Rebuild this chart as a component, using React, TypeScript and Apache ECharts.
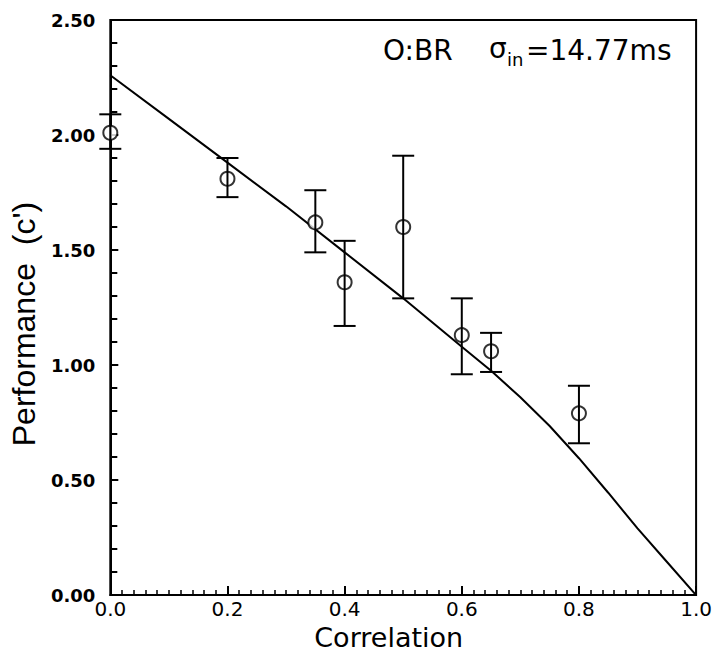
import React, { useEffect, useRef } from "react";
import * as echarts from "echarts";

// Measured points (correlation, performance c') with error-bar limits
const corrX = [0.0, 0.2, 0.35, 0.4, 0.5, 0.6, 0.65, 0.8];
const perf = [2.01, 1.81, 1.62, 1.36, 1.6, 1.13, 1.06, 0.79];
const errLow = [1.94, 1.73, 1.49, 1.17, 1.29, 0.96, 0.97, 0.66];
const errHigh = [2.09, 1.9, 1.76, 1.54, 1.91, 1.29, 1.14, 0.91];

// Model curve
const curveX = [0, 0.1, 0.2, 0.3, 0.4, 0.5, 0.6, 0.65, 0.7, 0.75, 0.8, 0.85, 0.9, 0.95, 1.0];
const curveY = [2.26, 2.07, 1.88, 1.69, 1.49, 1.29, 1.08, 0.975, 0.86, 0.735, 0.595, 0.445, 0.29, 0.145, 0.0];

const xTitle = "Correlation";
const yTitle = "Performance  (c')";
const FONT = "DejaVu Sans";

export default function App() {
  const ref = useRef<HTMLDivElement>(null);
  useEffect(() => {
    if (!ref.current) return;
    const chart = echarts.init(ref.current, null, { renderer: "svg" });
    const points = corrX.map((x, i) => [x, perf[i]]);
    const bars = corrX.map((x, i) => [x, errLow[i], errHigh[i]]);
    const curve = curveX.map((x, i) => [x, curveY[i]]);
    chart.setOption({
      animation: false,
      backgroundColor: "#fff",
      grid: {
        left: 108,
        right: 14,
        top: 20,
        bottom: 53,
        show: true,
        borderColor: "#000",
        borderWidth: 2,
        containLabel: false,
      },
      xAxis: {
        type: "value",
        min: 0,
        max: 1,
        interval: 0.2,
        name: xTitle,
        nameLocation: "middle",
        nameGap: 12,
        nameTextStyle: {
          fontFamily: FONT,
          fontSize: 27,
          color: "#000",
          verticalAlign: "top",
          padding: [0, 29, 0, 0],
        },
        axisLine: { show: true, lineStyle: { color: "#000", width: 2 } },
        axisTick: { show: true, inside: true, length: 9, lineStyle: { color: "#000", width: 2 } },
        minorTick: { show: true, splitNumber: 10, length: 5, lineStyle: { color: "#000", width: 1.5 } },
        splitLine: { show: false },
        minorSplitLine: { show: false },
        axisLabel: {
          formatter: (v: number) => v.toFixed(1),
          fontFamily: FONT,
          fontSize: 20,
          color: "#000",
          margin: 4,
          showMaxLabel: true,
          showMinLabel: true,
        },
      },
      yAxis: {
        type: "value",
        min: 0,
        max: 2.5,
        interval: 0.5,
        name: yTitle,
        nameLocation: "middle",
        nameGap: 52,
        nameTextStyle: {
          fontFamily: "Liberation Sans",
          fontSize: 32,
          color: "#000",
          padding: [0, 33, 0, 0],
        },
        axisLine: { show: true, lineStyle: { color: "#000", width: 2 } },
        axisTick: { show: true, inside: true, length: 8, lineStyle: { color: "#000", width: 2 } },
        minorTick: { show: true, splitNumber: 5, length: 7, lineStyle: { color: "#000", width: 2 } },
        splitLine: { show: false },
        minorSplitLine: { show: false },
        axisLabel: {
          formatter: (v: number) => v.toFixed(2),
          fontFamily: FONT,
          fontWeight: "bold",
          fontSize: 18,
          color: "#000",
          margin: 15,
        },
      },
      series: [
        {
          type: "line",
          data: curve,
          showSymbol: false,
          symbol: "none",
          smooth: false,
          lineStyle: { color: "#000", width: 2 },
          z: 2,
        },
        {
          type: "scatter",
          data: points,
          symbol: "emptyCircle",
          symbolSize: 14,
          clip: false,
          itemStyle: { color: "#000", borderColor: "#000", borderWidth: 2 },
          z: 3,
        },
        {
          type: "custom",
          data: bars,
          clip: false,
          encode: { x: 0, y: [1, 2] },
          z: 4,
          renderItem: (params: any, api: any) => {
            const lo = api.coord([api.value(0), api.value(1)]);
            const hi = api.coord([api.value(0), api.value(2)]);
            const half = 11;
            const st = { stroke: "#000", lineWidth: 2 };
            return {
              type: "group",
              children: [
                { type: "line", shape: { x1: lo[0], y1: lo[1], x2: hi[0], y2: hi[1] }, style: st },
                { type: "line", shape: { x1: lo[0] - half, y1: lo[1], x2: lo[0] + half, y2: lo[1] }, style: st },
                { type: "line", shape: { x1: hi[0] - half, y1: hi[1], x2: hi[0] + half, y2: hi[1] }, style: st },
              ],
            };
          },
        },
      ],
      graphic: [
        {
          type: "group",
          children: [
            {
              type: "text",
              x: 383,
              y: 50,
              style: { text: "O:BR", fontFamily: FONT, fontSize: 28, fill: "#000", verticalAlign: "middle" },
            },
            {
              type: "text",
              x: 489,
              y: 48,
              style: { text: "σ", fontFamily: FONT, fontSize: 28, fill: "#000", verticalAlign: "middle" },
            },
            {
              type: "text",
              x: 507,
              y: 59,
              style: { text: "in", fontFamily: FONT, fontSize: 18, fill: "#000", verticalAlign: "middle" },
            },
            {
              type: "text",
              x: 526,
              y: 50,
              style: { text: "=14.77ms", fontFamily: FONT, fontSize: 28, fill: "#000", verticalAlign: "middle" },
            },
          ],
        },
      ],
    });
    return () => chart.dispose();
  }, []);
  return (
    <div
      ref={ref}
      style={{ position: "fixed", left: 0, top: 0, width: 715, height: 656, background: "#fff" }}
    />
  );
}
